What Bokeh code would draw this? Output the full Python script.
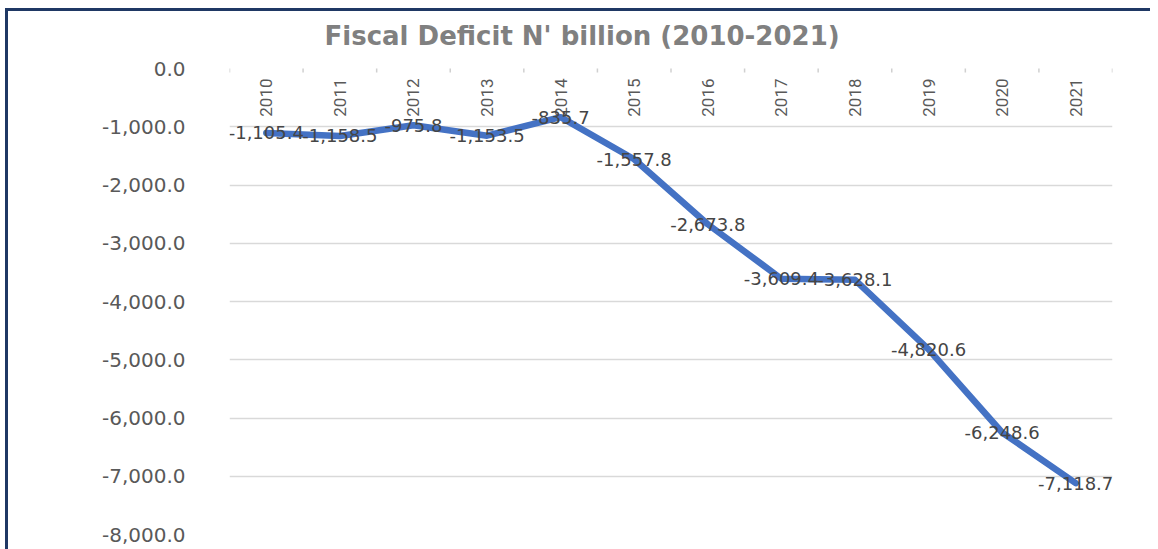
from math import pi
from bokeh.plotting import figure
from bokeh.models import ColumnDataSource, Range1d, FactorRange, NumeralTickFormatter, FixedTicker, LabelSet
from bokeh.core.properties import value
from bokeh.transform import dodge
from bokeh.embed import file_html
from bokeh.resources import INLINE

years = ["2010", "2011", "2012", "2013", "2014", "2015", "2016", "2017", "2018", "2019", "2020", "2021"]
deficit = [-1105.4, -1158.5, -975.8, -1153.5, -835.7, -1557.8, -2673.8, -3609.4, -3628.1, -4820.6, -6248.6, -7118.7]
y_ticks = [0, -1000, -2000, -3000, -4000, -5000, -6000, -7000, -8000]
title_text = "Fiscal Deficit N' billion (2010-2021)"

labels = [f"{v:,.1f}" for v in deficit]
src = ColumnDataSource(dict(year=years, value=deficit, label=labels, zero=[0] * len(years)))

p = figure(width=1150, height=549, output_backend="svg", toolbar_location=None,
           x_range=FactorRange(*years), y_range=Range1d(-8000, 0),
           min_border_left=229, min_border_right=38, min_border_top=68, min_border_bottom=15)
# dark blue frame line along the top and left edges
p.styles = {"box-shadow": "inset 5px 8px 0 0 #ffffff, inset 8px 11px 0 0 #1F3864", "background": "#ffffff"}

p.title.text = title_text
p.title.align = "left"
p.title.offset = 95
p.title.text_font = "DejaVu Sans"
p.title.text_font_style = "bold"
p.title.text_font_size = "26px"
p.title.text_color = "#808080"
p.title.standoff = 35

p.outline_line_color = None
p.background_fill_color = "white"
p.border_fill_alpha = 0

p.xaxis.visible = False
p.xgrid.grid_line_color = None

p.yaxis.ticker = FixedTicker(ticks=y_ticks)
p.yaxis.formatter = NumeralTickFormatter(format="0,0.0")
p.yaxis.axis_line_color = None
p.yaxis.major_tick_line_color = None
p.yaxis.minor_tick_line_color = None
p.yaxis.major_tick_out = 0
p.yaxis.major_tick_in = 0
p.yaxis.major_label_standoff = 44
p.yaxis.major_label_text_font = "DejaVu Sans"
p.yaxis.major_label_text_font_size = "20px"
p.yaxis.major_label_text_color = "#595959"
p.ygrid.ticker = FixedTicker(ticks=y_ticks)
p.ygrid.grid_line_color = "#d9d9d9"
p.ygrid.grid_line_width = 1.5

# category boundary tick marks on the zero axis
p.scatter(x=dodge("year", -0.5, range=p.x_range), y="zero", source=src, marker="dash",
          angle=pi / 2, size=8, line_color="#d0d0d0", line_width=1.5)
p.scatter(x=dodge("year", 0.5, range=p.x_range), y="zero", source=ColumnDataSource(dict(year=years[-1:], zero=[0])),
          marker="dash", angle=pi / 2, size=8, line_color="#d0d0d0", line_width=1.5)

# year labels below the zero axis
p.text(x="year", y="zero", text="year", source=src, angle=pi / 2, text_align="right",
       text_baseline="middle", y_offset=10, text_font=value("Roboto"),
       text_font_size="17px", text_color="#595959")

p.line("year", "value", source=src, line_color="#4472C4", line_width=6.5, line_join="round", line_cap="round")

data_labels = LabelSet(x="year", y="value", text="label", source=src, text_align="center",
                       text_baseline="middle", text_font=value("DejaVu Sans"), text_font_size="18px",
                       text_color="#454545")
p.add_layout(data_labels)

open("out.html", "w").write(file_html(p, INLINE))
